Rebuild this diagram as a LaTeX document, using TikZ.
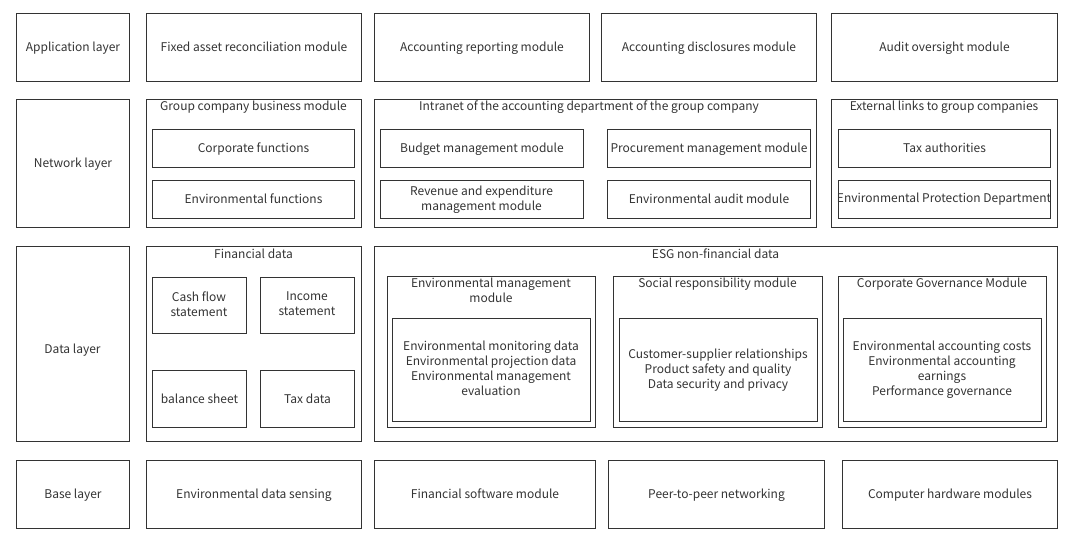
\documentclass[tikz,border=0pt]{standalone}
\usepackage{fontspec}
\setmainfont{Noto Sans CJK SC}
\definecolor{ln}{HTML}{333333}
\definecolor{tx}{HTML}{333333}
\tikzset{
  box/.style={draw=ln, line width=0.75pt, rectangle, inner sep=0pt, anchor=north west, align=center, text=tx,
    font=\fontsize{9pt}{11.25pt}\selectfont, text height=7.6pt, text depth=1.6pt},
  ttl/.style={inner sep=0pt, text=tx, align=center, font=\fontsize{9pt}{11.25pt}\selectfont},
}
% \bx{name}{x1}{y1}{x2}{y2}{text}
\newcommand{\bx}[6]{\node[box, minimum width={(#4-#2)*0.75pt}, minimum height={(#5-#3)*0.75pt}] (#1) at (#2,#3) {#6};}
\begin{document}
\begin{tikzpicture}[x=0.75pt,y=-0.75pt]
\useasboundingbox (0,0) rectangle (1080,551);
% Row 1
\bx{app}{16}{13}{129}{81}{Application layer}
\bx{fixed}{146}{13}{361}{81}{Fixed asset reconciliation module}
\bx{rep}{374}{13}{589}{81}{Accounting reporting module}
\bx{disc}{601}{13}{816}{81}{Accounting disclosures module}
\bx{audit}{831}{13}{1057}{81}{Audit oversight module}
% Row 2
\bx{net}{16}{99}{129}{227}{Network layer}
\bx{grp}{146}{99}{361}{227}{}
\node[ttl] (grpt) at (253.5,107.5) {Group company business module};
\bx{corp}{152}{129}{354}{167}{Corporate functions}
\bx{envf}{152}{180}{354}{218}{Environmental functions}
\bx{intra}{374}{99}{816}{227}{}
\node[ttl] (intrat) at (589,107.5) {Intranet of the accounting department of the group company};
\bx{budget}{380}{129}{583}{167}{Budget management module}
\bx{proc}{607}{129}{810}{167}{Procurement management module}
\bx{rev}{380}{180}{583}{218}{}
\node[ttl] (revt) at (481.5,200) {Revenue and expenditure\\management module};
\bx{envaud}{607}{180}{810}{218}{Environmental audit module}
\bx{ext}{831}{99}{1057}{227}{}
\node[ttl] (extt) at (944,107.5) {External links to group companies};
\bx{tax}{838}{129}{1050}{167}{Tax authorities}
\bx{epd}{838}{180}{1050}{218}{}
\node[ttl] (epdt) at (944,199.5) {Environmental Protection Department};
% Row 3
\bx{data}{16}{246}{129}{441}{}
\node[ttl] (datat) at (72.5,350) {Data layer};
\bx{fin}{146}{246}{361}{441}{}
\node[ttl] (fint) at (253.5,253.5) {Financial data};
\bx{cash}{152}{277}{246}{333}{}
\node[ttl] (casht) at (199,304) {Cash flow\\statement};
\bx{inc}{260}{277}{354}{333}{}
\node[ttl] (inct) at (307,304) {Income\\statement};
\bx{bal}{152}{370}{246}{427}{balance sheet}
\bx{taxd}{260}{370}{354}{427}{Tax data}
\bx{esg}{374}{246}{1057}{441}{}
\node[ttl] (esgt) at (715.5,253.5) {ESG non-financial data};
\bx{envm}{387}{276}{595}{427}{}
\node[ttl, anchor=north] (envmt) at (491,277.5) {Environmental management\\module};
\bx{envmi}{392}{318}{590}{421}{}
\node[ttl] (envmit) at (491,368.5) {Environmental monitoring data\\Environmental projection data\\Environmental management\\evaluation};
\bx{soc}{613}{276}{822}{427}{}
\node[ttl, anchor=north] (soct) at (717.5,277.5) {Social responsibility module};
\bx{soci}{619}{318}{817}{421}{}
\node[ttl] (socit) at (718,370) {Customer-supplier relationships\\Product safety and quality\\Data security and privacy};
\bx{cg}{838}{276}{1046}{427}{}
\node[ttl, anchor=north] (cgt) at (942,277.5) {Corporate Governance Module};
\bx{cgi}{843}{318}{1041}{421}{}
\node[ttl] (cgit) at (942,369.5) {Environmental accounting costs\\Environmental accounting\\earnings\\Performance governance};
% Row 4
\bx{base}{16}{460}{129}{528}{Base layer}
\bx{envs}{146}{460}{361}{528}{Environmental data sensing}
\bx{fsw}{374}{460}{595}{528}{Financial software module}
\bx{p2p}{608}{460}{824}{528}{Peer-to-peer networking}
\bx{hw}{842}{460}{1057}{528}{Computer hardware modules}
\end{tikzpicture}
\end{document}
